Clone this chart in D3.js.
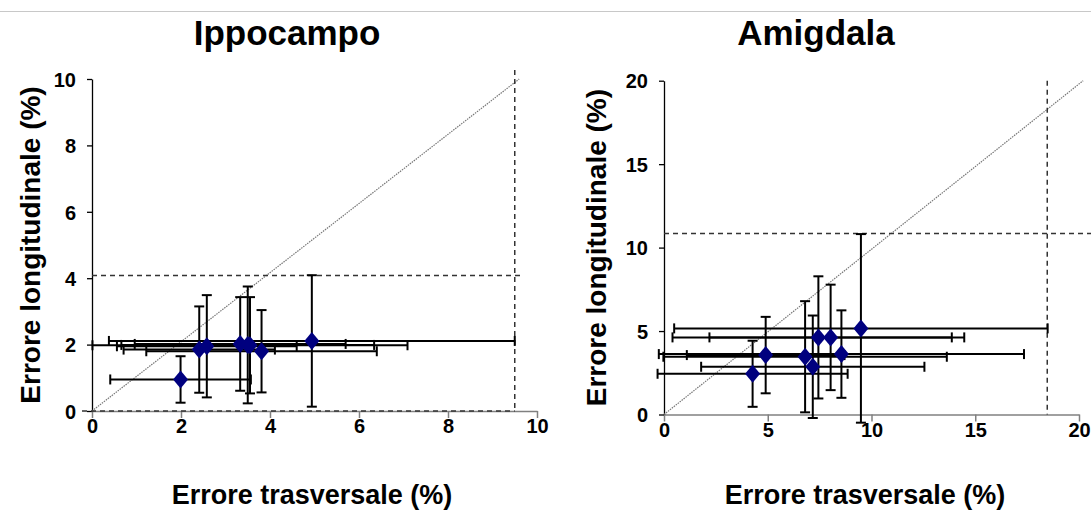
<!DOCTYPE html>
<html>
<head>
<meta charset="utf-8">
<script src="https://cdn.jsdelivr.net/npm/d3@7"></script>
<style>
body { margin: 0; background: #fff; }
svg { display: block; font-family: "Liberation Sans", Arial, sans-serif; }
.tick text { font-weight: bold; font-size: 20px; fill: #000; }
</style>
</head>
<body>
<svg id="chart" width="1091" height="512"></svg>
<script>
// Ippocampo
var ippoX = [1.99, 2.41, 2.58, 3.33, 3.50, 3.55, 3.81, 4.94];
var ippoY = [0.95, 1.85, 1.95, 2.02, 1.99, 1.98, 1.80, 2.11];
var ippoXErr = [1.58, 1.70, 2.02, 2.37, 2.84, 3.54, 2.59, 4.56];
var ippoYErr = [0.70, 1.30, 1.54, 1.41, 1.76, 1.45, 1.24, 1.98];
var ippoLimits = [9.5, 4.08];
var ippoDiag = [[0, 0], [9.6, 10]];
var ippoTicks = [0, 2, 4, 6, 8, 10];

// Amigdala
var amigX = [4.27, 4.90, 6.80, 7.17, 7.44, 8.03, 8.55, 9.49];
var amigY = [2.44, 3.56, 3.46, 2.86, 4.62, 4.62, 3.62, 5.16];
var amigXErr = [4.58, 3.80, 6.83, 5.38, 7.03, 5.84, 8.80, 9.00];
var amigYErr = [1.98, 2.29, 3.33, 3.07, 3.66, 3.16, 2.62, 5.65];
var amigLimits = [18.47, 10.84];
var amigDiag = [[0, 0], [20.2, 20]];
var amigTicks = [0, 5, 10, 15, 20];

var svg = d3.select("#chart");

// thin grey rule at the top of the page
svg.append("line").attr("x1", 0).attr("x2", 1091).attr("y1", 11.5).attr("y2", 11.5)
	.attr("stroke", "#c8c8c8").attr("stroke-width", 1);

function panel(opt) {
	var x = d3.scaleLinear().domain([0, opt.ticks[opt.ticks.length - 1]]).range([opt.left, opt.right]);
	var y = d3.scaleLinear().domain([0, opt.ticks[opt.ticks.length - 1]]).range([opt.bottom, opt.top]);
	var g = svg.append("g");

	// x axis
	var xa = g.append("g").attr("transform", "translate(0," + opt.bottom + ")")
		.call(d3.axisBottom(x).tickValues(opt.ticks).tickSize(7).tickSizeOuter(0).tickPadding(1));
	xa.select(".domain").attr("stroke", "#808080").attr("stroke-width", 1.5);
	xa.selectAll(".tick line").attr("stroke", "#808080").attr("stroke-width", 1.5);

	// y axis
	var ya = g.append("g").attr("transform", "translate(" + opt.left + ",0)")
		.call(d3.axisLeft(y).tickValues(opt.ticks).tickSize(5).tickSizeOuter(0).tickPadding(11));
	ya.select(".domain").attr("stroke", "#000").attr("stroke-width", 1.3);
	ya.selectAll(".tick line").attr("stroke", "#000").attr("stroke-width", 1.3);
	ya.selectAll(".tick text").attr("dy", "0.36em");

	// diagonal
	g.append("line")
		.attr("x1", x(opt.diag[0][0])).attr("y1", y(opt.diag[0][1]))
		.attr("x2", x(opt.diag[1][0])).attr("y2", y(opt.diag[1][1]))
		.attr("stroke", "#777").attr("stroke-width", 1.2).attr("stroke-dasharray", "1.5,1");

	// dashed limit lines
	g.append("line").attr("x1", x(opt.limits[0])).attr("x2", x(opt.limits[0]))
		.attr("y1", opt.top - opt.vOver).attr("y2", opt.bottom)
		.attr("stroke", "#333").attr("stroke-width", 1.5).attr("stroke-dasharray", "5,4");
	g.append("line").attr("x1", opt.left).attr("x2", opt.hEnd)
		.attr("y1", y(opt.limits[1])).attr("y2", y(opt.limits[1]))
		.attr("stroke", "#333").attr("stroke-width", 1.5).attr("stroke-dasharray", "5,4");
	if (opt.zeroDash) {
		g.append("line").attr("x1", opt.left - 10).attr("x2", x(opt.limits[0]))
			.attr("y1", y(0)).attr("y2", y(0))
			.attr("stroke", "#333").attr("stroke-width", 1.5).attr("stroke-dasharray", "5,4");
	}

	var pts = opt.xs.map(function(v, i) {
		return {x: v, y: opt.ys[i], ex: opt.xerr[i], ey: opt.yerr[i]};
	});
	var cap = 5;
	var eb = g.append("g").attr("stroke", "#000").attr("stroke-width", 2).attr("fill", "none");
	pts.forEach(function(d) {
		var cx = x(d.x), cy = y(d.y);
		var x0 = x(d.x - d.ex), x1 = x(d.x + d.ex);
		var y0 = y(d.y - d.ey), y1 = y(d.y + d.ey);
		eb.append("line").attr("x1", x0).attr("x2", x1).attr("y1", cy).attr("y2", cy);
		eb.append("line").attr("x1", x0).attr("x2", x0).attr("y1", cy - cap).attr("y2", cy + cap);
		eb.append("line").attr("x1", x1).attr("x2", x1).attr("y1", cy - cap).attr("y2", cy + cap);
		eb.append("line").attr("x1", cx).attr("x2", cx).attr("y1", y0).attr("y2", y1);
		eb.append("line").attr("x1", cx - cap).attr("x2", cx + cap).attr("y1", y0).attr("y2", y0);
		eb.append("line").attr("x1", cx - cap).attr("x2", cx + cap).attr("y1", y1).attr("y2", y1);
	});

	g.selectAll("path.pt").data(pts).enter().append("path").attr("class", "pt")
		.attr("d", "M0,-9L7.5,0L0,9L-7.5,0Z")
		.attr("transform", function(d) { return "translate(" + x(d.x) + "," + y(d.y) + ")"; })
		.attr("fill", "#00007f");

	// titles
	g.append("text").attr("x", opt.titleX).attr("y", 45).attr("text-anchor", "middle")
		.style("font-size", "35px").style("font-weight", "bold").text(opt.title);
	g.append("text").attr("x", opt.xLabelX).attr("y", 504).attr("text-anchor", "middle")
		.style("font-size", "27px").style("font-weight", "bold").text("Errore trasversale (%)");
	g.append("text").attr("transform", "translate(" + opt.yLabelX + "," + ((opt.top + opt.bottom) / 2) + ") rotate(-90)")
		.attr("text-anchor", "middle")
		.style("font-size", "28px").style("font-weight", "bold").text("Errore longitudinale (%)");
}

panel({
	xs: ippoX, ys: ippoY, xerr: ippoXErr, yerr: ippoYErr,
	limits: ippoLimits, diag: ippoDiag, ticks: ippoTicks,
	left: 92, right: 537, top: 79, bottom: 411, hEnd: 524, zeroDash: true, vOver: 9,
	title: "Ippocampo", titleX: 287, xLabelX: 312, yLabelX: 40
});
panel({
	xs: amigX, ys: amigY, xerr: amigXErr, yerr: amigYErr,
	limits: amigLimits, diag: amigDiag, ticks: amigTicks,
	left: 664, right: 1079, top: 80.7, bottom: 414.5, hEnd: 1091, zeroDash: false, vOver: 0,
	title: "Amigdala", titleX: 816, xLabelX: 865, yLabelX: 606
});
</script>
</body>
</html>
